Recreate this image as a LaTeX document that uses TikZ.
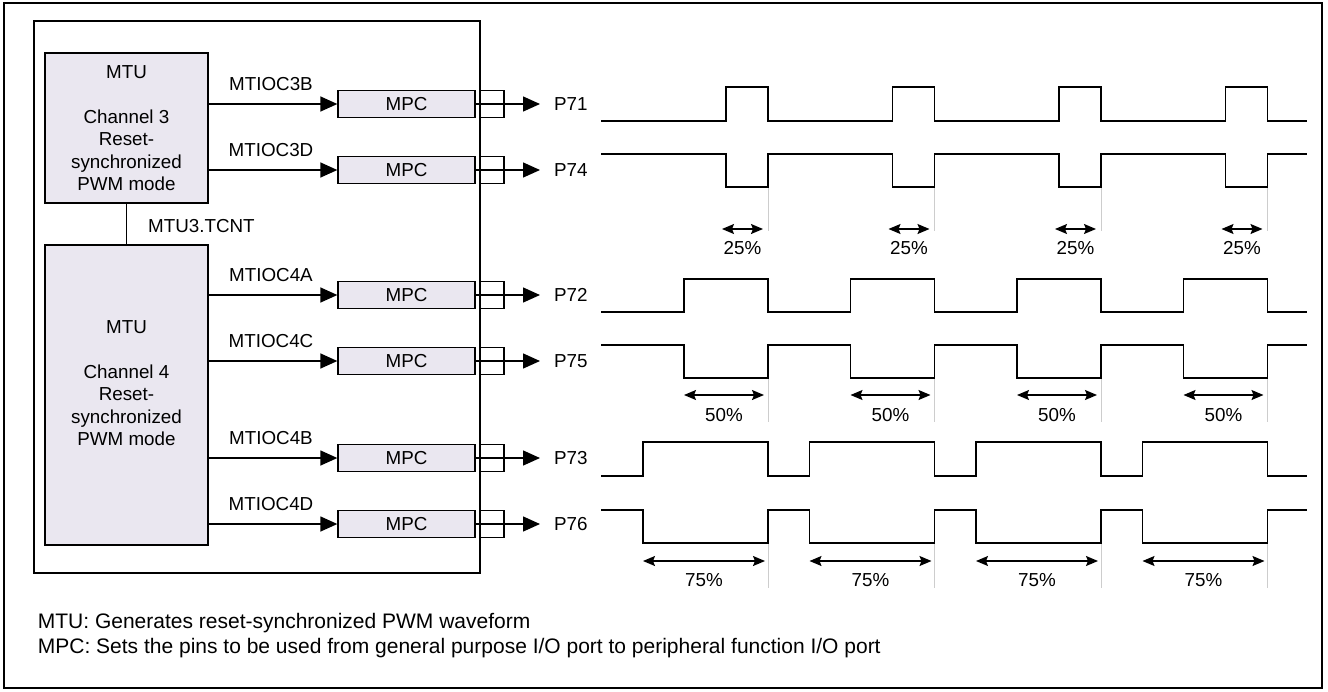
\documentclass[tikz,border=0pt]{standalone}
\usepackage{fontspec}
\setmainfont{Liberation Sans}
\usetikzlibrary{arrows.meta}
\definecolor{boxfill}{RGB}{234,231,240}
\definecolor{guide}{RGB}{205,205,205}
\begin{document}
\begin{tikzpicture}[x=1pt,y=-1pt,
  lbl/.style={font=\fontsize{18.8}{22.5}\selectfont, inner sep=0pt},
  foot/.style={font=\fontsize{21}{25}\selectfont, inner sep=0pt},
  mtubox/.style={draw, line width=1.3pt, fill=boxfill, minimum width=163pt, inner sep=0pt, align=center, font=\fontsize{18.8}{22.5}\selectfont},
  mpcbox/.style={draw, line width=1.3pt, fill=boxfill, minimum width=137pt, minimum height=26.6pt, inner sep=0pt, font=\fontsize{18.8}{22.5}\selectfont},
  pinbox/.style={draw, line width=1.3pt, minimum width=24pt, minimum height=26.6pt, inner sep=0pt},
  sig/.style={line width=1.4pt, -{Triangle[length=17pt,width=15pt]}},
  wave/.style={line width=1.5pt, line join=miter},
  guideline/.style={guide, line width=1pt},
  dim/.style={line width=1.3pt, {Stealth[length=12pt,width=10pt,inset=2pt]}-{Stealth[length=12pt,width=10pt,inset=2pt]}},
]
\useasboundingbox (0,0) rectangle (1328,691);
% outer frame and inner block
\draw[line width=2.2pt] (4,3) rectangle (1322,688);
\draw[line width=1.4pt] (34,21) rectangle (480,573);

% MTU blocks
\node[mtubox, minimum height=150pt] (mtu3) at (126.5,128) {MTU\\[22.5pt]Channel 3\\Reset-\\synchronized\\PWM mode};
\node[mtubox, minimum height=300pt] (mtu4) at (126.5,395) {};
\node[lbl, align=center] (mtu4t) at (126.5,383) {MTU\\[22.5pt]Channel 4\\Reset-\\synchronized\\PWM mode};
\draw[line width=1.3pt] (mtu3.south) -- (mtu4.north);
\node[lbl, anchor=west] (tcnt) at (148,226) {MTU3.TCNT};

% signal rows
\foreach \i/\y/\src/\sig/\pin in {1/104/mtu3/MTIOC3B/P71, 2/170/mtu3/MTIOC3D/P74, 3/295/mtu4/MTIOC4A/P72, 4/361/mtu4/MTIOC4C/P75, 5/458/mtu4/MTIOC4B/P73, 6/524/mtu4/MTIOC4D/P76}{
  \node[mpcbox] (mpc\i) at (406.5,\y) {MPC};
  \node[pinbox] (pin\i) at (492,\y) {};
  \coordinate (tip\i) at (540,\y);
  \draw[sig] (mpc\i -| \src.east) -- (mpc\i.west);
  \node[lbl] (sl\i) at (271,{\y-19.5}) {\sig};
  \draw[sig] (mpc\i.east) -- (tip\i);
  \node[lbl, anchor=west] (pl\i) at (554,\y) {\pin};
}

% waveforms
\foreach \b/\o/\w in {121/87/42, 154/187/42, 312/279/84, 345/378/84, 476/442/125, 510/543/125}{
  \draw[wave] (601,\b) \foreach \k in {0,1,2,3}{
     -- ({768+166.5*\k-\w},\b) -- ({768+166.5*\k-\w},\o) -- ({768+166.5*\k},\o) -- ({768+166.5*\k},\b)
  } -- (1307,\b);
}

% duty-cycle dimensions
\foreach \k in {0,1,2,3}{
  \pgfmathsetmacro{\F}{768+166.5*\k}
  \draw[guideline] (\F,188) -- (\F,231);
  \draw[guideline] (\F,379) -- (\F,422);
  \draw[guideline] (\F,544) -- (\F,588);
  \draw[dim] ({\F-46},229) -- ({\F-5},229);
  \draw[dim] ({\F-84},395) -- ({\F-4},395);
  \draw[dim] ({\F-125},561) -- ({\F-3},561);
  \node[lbl] (a\k) at ({\F-25.5},248) {25\%};
  \node[lbl] (b\k) at ({\F-44},415) {50\%};
  \node[lbl] (c\k) at ({\F-64},580) {75\%};
}

% notes
\node[foot, anchor=base west] (n1) at (37.7,628) {MTU: Generates reset-synchronized PWM waveform};
\node[foot, anchor=base west] (n2) at (37.7,653) {MPC: Sets the pins to be used from general purpose I/O port to peripheral function I/O port};
\end{tikzpicture}
\end{document}
